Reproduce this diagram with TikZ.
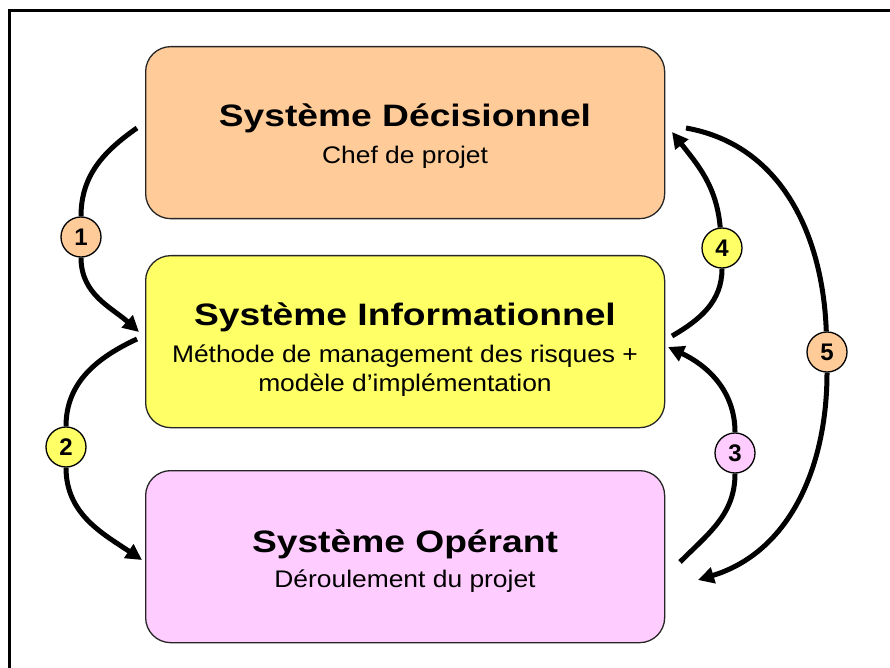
\documentclass[tikz,border=0pt]{standalone}
\usepackage{fontspec}
\setmainfont{Liberation Sans}
\newfontfamily\titlefam[FakeStretch=1.2]{Liberation Sans}
\newfontfamily\subfam[FakeStretch=1.1]{Liberation Sans}
\usetikzlibrary{arrows.meta}
\definecolor{orangeS}{HTML}{FFCC99}
\definecolor{yellowS}{HTML}{FFFF66}
\definecolor{pinkS}{HTML}{FFCCFF}
\tikzset{
  sysbox/.style={draw=black!85, line width=1.3pt, rounded corners=25pt,
    minimum width=519pt, minimum height=172pt, anchor=north west, inner sep=0pt},
  titletext/.style={font=\titlefam\bfseries\fontsize{31}{36}\selectfont, inner sep=0pt, anchor=base},
  subtext/.style={font=\subfam\fontsize{24}{28}\selectfont, inner sep=0pt, anchor=base},
  badge/.style={circle, draw=black, line width=1.3pt, minimum size=40pt, inner sep=0pt,
    font=\bfseries\fontsize{24}{26}\selectfont},
  conn/.style={line width=5pt, -{Triangle[length=16pt,width=16pt]}},
  frameline/.style={line width=2.6pt}
}
\begin{document}
\begin{tikzpicture}[x=1pt,y=1pt]
\useasboundingbox (0,0) rectangle (890,667);
\clip (0,0) rectangle (890,667);
\fill[white] (0,0) rectangle (890,667);
\draw[frameline] (9.5,-10) -- (9.5,656.5) -- (900,656.5);

% boxes
\node[sysbox, fill=orangeS] (sd) at (145,621) {};
\node[sysbox, fill=yellowS] (si) at (145,412) {};
\node[sysbox, fill=pinkS] (so) at (145,197) {};

% texts
\node[titletext] (sdT) at (405,540) {Système Décisionnel};
\node[subtext] (sdS) at (405,503) {Chef de projet};
\node[titletext] (siT) at (405,341) {Système Informationnel};
\node[subtext] (siS1) at (405,305) {Méthode de management des risques +};
\node[subtext] (siS2) at (405,276) {modèle d’implémentation};
\node[titletext] (soT) at (405,115) {Système Opérant};
\node[subtext] (soS) at (405,80) {Déroulement du projet};

% badges
\node[badge, fill=orangeS] (b1) at (81,430) {1};
\node[badge, fill=yellowS] (b2) at (66,220) {2};
\node[badge, fill=pinkS] (b3) at (735,214) {3};
\node[badge, fill=yellowS] (b4) at (722,419) {4};
\node[badge, fill=orangeS] (b5) at (827,315) {5};

% connector end points
\coordinate (a1s) at (137,539);
\coordinate (a1e) at (139,335);
\coordinate (a2s) at (137,328);
\coordinate (a2e) at (142,107);
\coordinate (a3s) at (680,105);
\coordinate (a3e) at (668,320);
\coordinate (a4s) at (672,331);
\coordinate (a4e) at (672,535);
\coordinate (a5s) at (686,539);
\coordinate (a5e) at (698,87);

% connectors
\draw[conn] (a1s) to[out=215,in=90] (b1) to[out=-90,in=138] (a1e);
\draw[conn] (a2s) to[out=205,in=90] (b2) to[out=-90,in=146] (a2e);
\draw[conn] (a3s) to[out=45,in=-90] (b3) to[out=90,in=-25] (a3e);
\draw[conn] (a4s) to[out=30,in=-90] (b4) to[out=95,in=-52] (a4e);
\draw[conn] (a5s) to[out=-10,in=92] (b5) to[out=-90,in=17] (a5e);
\end{tikzpicture}
\end{document}
